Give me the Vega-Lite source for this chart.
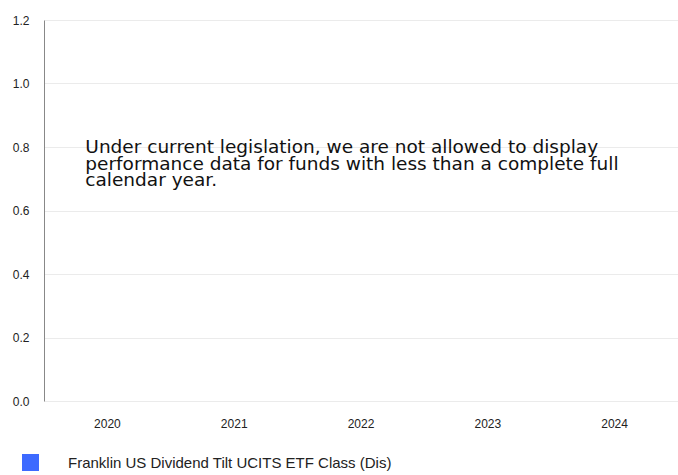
{
  "$schema": "https://vega.github.io/schema/vega-lite/v6.json",
  "width": 634,
  "height": 381,
  "autosize": {"type": "none"},
  "padding": {"left": 44, "top": 20, "right": 0, "bottom": 74},
  "background": "white",
  "config": {
    "font": "Liberation Sans",
    "view": {"stroke": null}
  },
  "datasets": {
    "perf": [
      {"year": "2020", "fund": "Franklin US Dividend Tilt UCITS ETF Class (Dis)", "value": null},
      {"year": "2021", "fund": "Franklin US Dividend Tilt UCITS ETF Class (Dis)", "value": null},
      {"year": "2022", "fund": "Franklin US Dividend Tilt UCITS ETF Class (Dis)", "value": null},
      {"year": "2023", "fund": "Franklin US Dividend Tilt UCITS ETF Class (Dis)", "value": null},
      {"year": "2024", "fund": "Franklin US Dividend Tilt UCITS ETF Class (Dis)", "value": null}
    ],
    "note": [
      {"year": "2020", "y": 0.8, "text": "Under current legislation, we are not allowed to display\nperformance data for funds with less than a complete full\ncalendar year."}
    ]
  },
  "layer": [
    {
      "data": {"name": "perf"},
      "mark": {"type": "bar", "invalid": "filter"},
      "encoding": {
        "x": {
          "field": "year", "type": "ordinal",
          "scale": {"domain": ["2020", "2021", "2022", "2023", "2024"]},
          "axis": {"title": null, "domain": false, "ticks": false, "grid": false, "labelAngle": 0,
                   "labelFontSize": 12, "labelColor": "#222", "labelPadding": 17}
        },
        "y": {
          "field": "value", "type": "quantitative",
          "scale": {"domain": [0, 1.2], "nice": false},
          "axis": {"title": null, "values": [0, 0.2, 0.4, 0.6, 0.8, 1.0, 1.2], "format": ".1f",
                   "domain": true, "domainColor": "#888", "domainWidth": 1, "ticks": false,
                   "grid": true, "gridColor": "#ebebeb", "gridWidth": 1,
                   "labelFontSize": 12, "labelColor": "#222", "labelPadding": 15}
        },
        "color": {
          "field": "fund", "type": "nominal",
          "scale": {"domain": ["Franklin US Dividend Tilt UCITS ETF Class (Dis)"], "range": ["#3d6aff"]},
          "legend": {
            "title": null, "orient": "none", "legendX": -22, "legendY": 434,
            "symbolType": "square", "symbolSize": 289, "symbolStrokeWidth": 0,
            "labelFont": "Liberation Sans", "labelFontSize": 15, "labelColor": "#222", "labelOffset": 29, "labelLimit": 600
          }
        }
      }
    },
    {
      "data": {"name": "note"},
      "mark": {"type": "text", "align": "left", "baseline": "alphabetic", "font": "DejaVu Sans", "fontSize": 18.5,
               "lineBreak": "\n", "lineHeight": 16.5, "dx": 35, "dy": 6, "color": "#111"},
      "encoding": {
        "x": {"field": "year", "type": "ordinal", "bandPosition": 0},
        "y": {"field": "y", "type": "quantitative"},
        "text": {"field": "text"}
      }
    }
  ]
}
